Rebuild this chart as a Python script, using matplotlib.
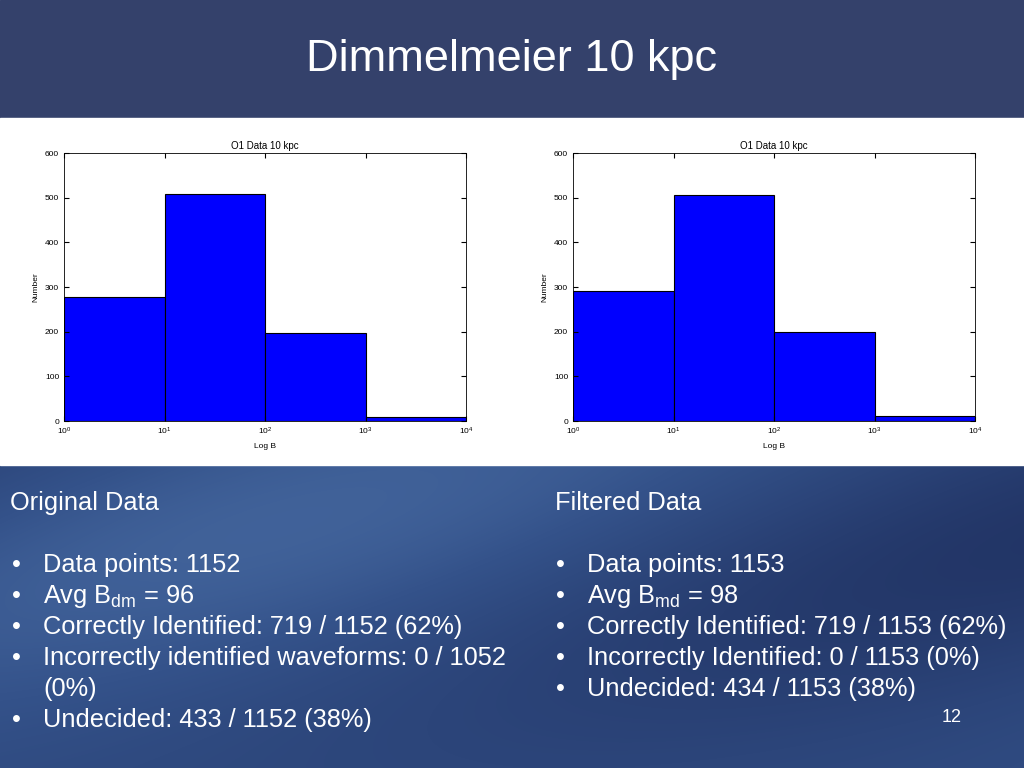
import numpy as np
import matplotlib.pyplot as plt
from matplotlib.colors import LinearSegmentedColormap

bin_edges = [1, 10, 100, 1000, 10000]
orig_counts = [278, 508, 198, 10]
filt_counts = [292, 507, 200, 12]

left_lines = ["Data points: 1152", r"Avg B$_{\mathrm{dm}}$ = 96", "Correctly Identified: 719 / 1152 (62%)",
              "Incorrectly identified waveforms: 0 / 1052", "(0%)", "Undecided: 433 / 1152 (38%)"]
left_bullets = [True, True, True, True, False, True]
right_lines = ["Data points: 1153", r"Avg B$_{\mathrm{md}}$ = 98", "Correctly Identified: 719 / 1153 (62%)",
               "Incorrectly Identified: 0 / 1153 (0%)", "Undecided: 434 / 1153 (38%)"]

plt.rcParams['font.family'] = 'Liberation Sans'
plt.rcParams['mathtext.fontset'] = 'custom'
plt.rcParams['mathtext.rm'] = 'Liberation Sans'
W, H = 1024, 768
fig = plt.figure(figsize=(W / 100, H / 100), dpi=100)

# background
bg = fig.add_axes([0, 0, 1, 1])
bg.add_patch(plt.Rectangle((0, 0), W, 118, color='#34416b'))
bg.add_patch(plt.Rectangle((0, 118), W, 347, color='white'))
yy, xx = np.mgrid[0:303, 0:W]
grad = 0.45 + 0.35 * np.sin(xx / 260.0 + yy / 120.0) * np.exp(-((yy - 60) / 200.0) ** 2)
cmap = LinearSegmentedColormap.from_list('b', ['#1f3060', '#34528a', '#5a82b8'])
bg.imshow(grad, extent=(0, W, 768, 465), cmap=cmap, aspect='auto', vmin=0, vmax=1.2)
bg.set_xlim(0, W)
bg.set_ylim(H, 0)
bg.axis('off')
bg.text(512, 60, "Dimmelmeier 10 kpc", color='white', fontsize=32.5, ha='center', va='center')


def hist_panel(x0, counts):
    ax = fig.add_axes([x0 / W, 1 - 421 / H, 402 / W, 268 / H])
    ax.bar(bin_edges[:-1], counts, width=np.diff(bin_edges), align='edge',
           color='#0000ff', edgecolor='black', linewidth=0.8)
    ax.set_xscale('log')
    ax.set_xlim(1, 10000)
    ax.set_ylim(0, 600)
    ax.set_yticks(range(0, 601, 100))
    ax.minorticks_off()
    ax.tick_params(labelsize=6, direction='in', top=True, right=True)
    ax.set_title("O1 Data 10 kpc", fontsize=7, pad=3)
    ax.set_xlabel("Log B", fontsize=6)
    ax.set_ylabel("Number", fontsize=6)
    for s in ax.spines.values():
        s.set_linewidth(0.6)


hist_panel(64, orig_counts)
hist_panel(573, filt_counts)

fs = 18.3
bg.text(10, 503, "Original Data", color='white', fontsize=fs, va='center')
bg.text(555, 503, "Filtered Data", color='white', fontsize=fs, va='center')
for i, (t, b) in enumerate(zip(left_lines, left_bullets)):
    y = 565 + 31 * i
    if b:
        bg.text(12, y, "•", color='white', fontsize=fs, va='center')
    bg.text(43, y, t, color='white', fontsize=fs, va='center')
for i, t in enumerate(right_lines):
    y = 565 + 31 * i
    bg.text(556, y, "•", color='white', fontsize=fs, va='center')
    bg.text(587, y, t, color='white', fontsize=fs, va='center')
bg.text(952, 717, "12", color='white', fontsize=13, ha='center', va='center')

fig.savefig("out.png", dpi=100)
